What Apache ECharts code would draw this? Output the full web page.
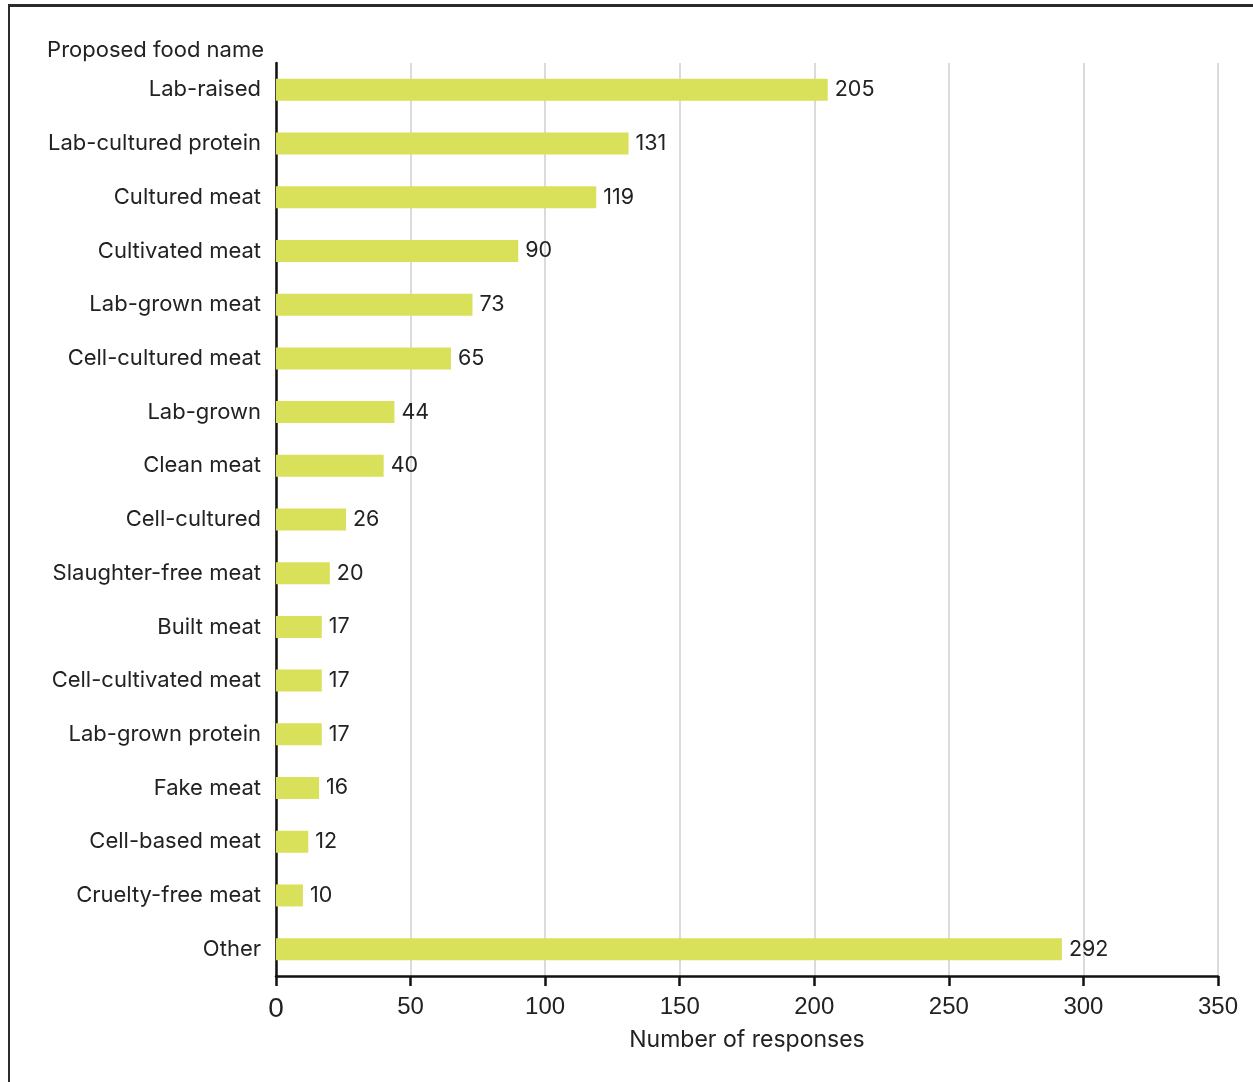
<!DOCTYPE html>
<html><head><meta charset="utf-8">
<script src="https://cdn.jsdelivr.net/npm/echarts@6/dist/echarts.min.js"></script>
<style>
html,body{margin:0;padding:0;background:#fff;}
#frame{position:absolute;left:8px;top:4px;width:1245px;height:1078px;border-left:2px solid #2b2b2b;border-top:3px solid #2b2b2b;box-sizing:border-box;}
#chart{position:absolute;left:0;top:0;width:1253px;height:1082px;}
</style></head>
<body>
<div id="frame"></div>
<div id="chart"></div>
<script>
const categories = ["Lab-raised","Lab-cultured protein","Cultured meat","Cultivated meat","Lab-grown meat","Cell-cultured meat","Lab-grown","Clean meat","Cell-cultured","Slaughter-free meat","Built meat","Cell-cultivated meat","Lab-grown protein","Fake meat","Cell-based meat","Cruelty-free meat","Other"];
const responses = [205,131,119,90,73,65,44,40,26,20,17,17,17,16,12,10,292];
const xTicks = [0,50,100,150,200,250,300,350];

const chart = echarts.init(document.getElementById('chart'), null, {renderer:'canvas'});
chart.setOption({
  animation:false,
  backgroundColor:'transparent',
  grid:{left:276,right:35,top:63,bottom:106,containLabel:false},
  xAxis:{
    type:'value',min:xTicks[0],max:xTicks[xTicks.length-1],interval:50,
    name:'Number of responses',nameLocation:'middle',nameGap:53,
    nameTextStyle:{fontFamily:'Inter',fontSize:23,color:'#222'},
    axisLine:{show:true,lineStyle:{color:'#111',width:2.5}},
    axisTick:{show:true,length:10,lineStyle:{color:'#111',width:2.5}},
    axisLabel:{margin:19,fontFamily:'Liberation Sans',fontSize:24,color:'#222',
      formatter:v=> v===0 ? '{z|0}' : String(v),
      rich:{z:{fontFamily:'Liberation Sans',fontSize:28,color:'#222'}}},
    splitLine:{show:true,lineStyle:{color:'#cfcfcf',width:1.5}}
  },
  yAxis:{
    type:'category',data:categories,inverse:true,
    name:'Proposed food name',nameLocation:'start',nameGap:2,
    nameTextStyle:{fontFamily:'Inter',fontSize:22,color:'#222',align:'right',padding:[0,12,0,0]},
    axisLine:{show:true,lineStyle:{color:'#111',width:2.5}},
    axisTick:{show:false},
    axisLabel:{margin:15,fontFamily:'Inter',fontSize:22,color:'#222'},
    splitLine:{show:false}
  },
  series:[{
    type:'bar',data:responses,barWidth:22,
    itemStyle:{color:'#d9e15a'},
    label:{show:true,position:'right',distance:7,fontFamily:'Inter',fontSize:21.5,color:'#222'}
  }]
});
</script>
</body></html>
